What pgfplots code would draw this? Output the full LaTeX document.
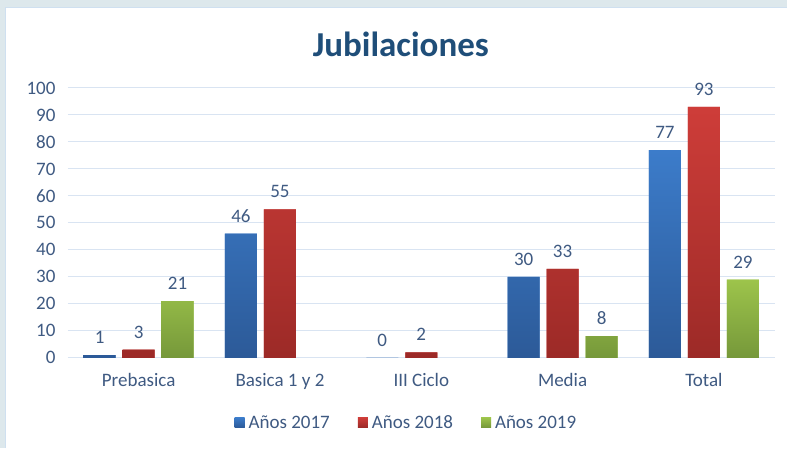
\documentclass[border=0pt]{standalone}
\usepackage{pgfplots}
\pgfplotsset{compat=1.18}
\usepackage{fontspec}
\setmainfont{Carlito}
\definecolor{bgc}{HTML}{DDE8EC}
\definecolor{edgec}{HTML}{CFE0F0}
\definecolor{titlec}{HTML}{1F4E79}
\definecolor{textc}{HTML}{3F5A82}
\definecolor{gridc}{HTML}{D9E4F2}
\definecolor{blueT}{HTML}{3C7CCA}
\definecolor{blueB}{HTML}{2C5A98}
\definecolor{redT}{HTML}{CE3D39}
\definecolor{redB}{HTML}{9C2A27}
\definecolor{greenT}{HTML}{9DC44B}
\definecolor{greenB}{HTML}{76983A}
\begin{document}
\begin{tikzpicture}[x=1pt,y=1pt]
\fill[bgc] (0,0) rectangle (787,448);
\fill[white] (5,0) rectangle (787,441);
\draw[edgec, line width=0.8pt] (5,0) -- (5,441) -- (787,441);
\node[font=\fontsize{35}{42}\selectfont\bfseries, text=titlec] at (401,404) {Jubilaciones};
\begin{axis}[
  at={(68pt,90pt)}, anchor=south west,
  scale only axis, width=707pt, height=270pt,
  ymin=0, ymax=100, xmin=-0.5, xmax=4.5,
  enlarge x limits=false, enlarge y limits=false,
  clip=false,
  ybar=7pt, bar width=32pt,
  xtick={0,1,2,3,4},
  xticklabels={Prebasica,Basica 1 y 2,III Ciclo,Media,Total},
  ytick={0,10,...,100},
  ymajorgrids, grid style={gridc, line width=1pt},
  axis line style={draw=none},
  major tick length=0pt,
  /pgf/number format/assume math mode=true,
  tick label style={font=\fontsize{19}{23}\selectfont, text=textc},
  yticklabel style={xshift=-9pt},
  xticklabel style={yshift=-12pt},
  nodes near coords,
  every node near coord/.append style={font=\fontsize{19}{23}\selectfont, text=textc, yshift=8pt},
  legend columns=3,
  legend style={draw=none, fill=none, font=\fontsize{19}{23}\selectfont, text=textc,
    at={(0.479,-0.24)}, anchor=center,
    /tikz/every odd column/.append style={column sep=2pt},
    /tikz/every even column/.append style={column sep=26pt}},
  legend image code/.code={\fill[#1] (0pt,-5pt) rectangle (10pt,5pt);},
]
\addplot[fill=blueT, top color=blueT, bottom color=blueB, draw=none]
  coordinates {(0,1) (1,46) (2,0) (3,30) (4,77)};
\addplot[fill=redT, top color=redT, bottom color=redB, draw=none]
  coordinates {(0,3) (1,55) (2,2) (3,33) (4,93)};
\addplot[fill=greenT, top color=greenT, bottom color=greenB, draw=none]
  coordinates {(0,21) (3,8) (4,29)};
\legend{Años 2017,Años 2018,Años 2019}
\end{axis}
\end{tikzpicture}
\end{document}
